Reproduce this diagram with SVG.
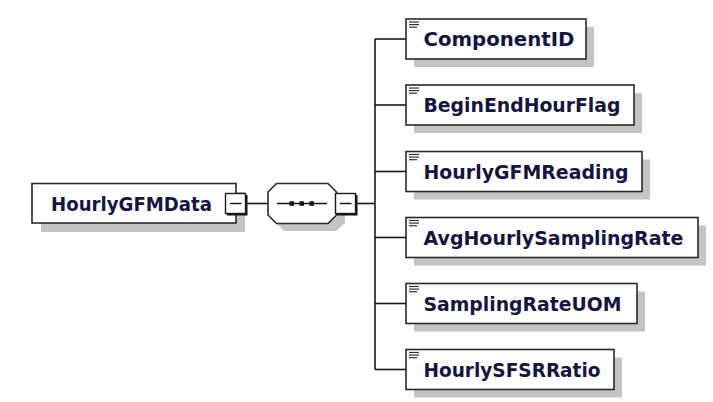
<svg xmlns="http://www.w3.org/2000/svg" width="713" height="402" viewBox="0 0 713 402">
<defs>
<style>
.shadow{fill:#c4c4c4}
.box{fill:#fff;stroke:#2a2a2a;stroke-width:1.6}
.lbl{font-family:"DejaVu Sans","Liberation Sans",sans-serif;font-weight:bold;font-size:20px;fill:#15153f}
.conn{stroke:#1a1a1a;stroke-width:1.6;fill:none}
.ico{stroke:#333;stroke-width:1.2}
.mbox{fill:#fff;stroke:#1a1a1a;stroke-width:1.4}
</style>
<g id="doc"><line class="ico" x1="409" y1="22" x2="419" y2="22"/><line class="ico" x1="409" y1="24.6" x2="419" y2="24.6"/><line class="ico" x1="409" y1="27.2" x2="417" y2="27.2"/></g>
</defs>
<rect width="713" height="402" fill="#fff"/>
<g id="connectors">
<line class="conn" x1="247" y1="203.5" x2="268" y2="203.5"/>
<line class="conn" x1="357" y1="203.5" x2="375" y2="203.5"/>
<line class="conn" x1="375" y1="39" x2="375" y2="369.5"/>
<line class="conn" x1="375" y1="39" x2="406" y2="39"/>
<line class="conn" x1="375" y1="105" x2="406" y2="105"/>
<line class="conn" x1="375" y1="171.5" x2="406" y2="171.5"/>
<line class="conn" x1="375" y1="237.5" x2="406" y2="237.5"/>
<line class="conn" x1="375" y1="303.5" x2="406" y2="303.5"/>
<line class="conn" x1="375" y1="369.5" x2="406" y2="369.5"/>
</g>
<g id="HourlyGFMData">
<rect class="shadow" x="41" y="192" width="204" height="40"/>
<rect class="box" x="32" y="183.5" width="204" height="39.5"/>
<text class="lbl" x="51" y="210.8" textLength="161" lengthAdjust="spacingAndGlyphs">HourlyGFMData</text>
<rect x="227" y="195" width="20.5" height="20.5" fill="#111"/>
<rect class="mbox" x="225.5" y="193.5" width="20" height="20"/>
<line x1="230" y1="203.5" x2="241.5" y2="203.5" stroke="#111" stroke-width="1.4"/>
</g>
<g id="sequence">
<polygon class="shadow" points="284,191 336,191 345,200 345,223 336,231 284,231 276,223 276,200"/>
<polygon points="276.5,183.5 328,183.5 336.5,192 336.5,215 328,223.5 276.5,223.5 268,215 268,192" fill="#fff" stroke="#2a2a2a" stroke-width="1.6"/>
<line x1="277" y1="203.5" x2="327" y2="203.5" stroke="#111" stroke-width="1.4"/>
<rect x="289.5" y="201.3" width="4.5" height="4.5" fill="#111"/>
<rect x="299.5" y="201.3" width="4.5" height="4.5" fill="#111"/>
<rect x="309.5" y="201.3" width="4.5" height="4.5" fill="#111"/>
<rect x="337" y="195" width="20.5" height="20.5" fill="#111"/>
<rect class="mbox" x="335.5" y="193.5" width="20" height="20"/>
<line x1="340" y1="203.5" x2="351.5" y2="203.5" stroke="#111" stroke-width="1.4"/>
</g>
<g id="ComponentID">
<rect class="shadow" x="414" y="27" width="180" height="40"/>
<rect class="box" x="406" y="19" width="180" height="40"/>
<use href="#doc"/>
<text class="lbl" x="423.5" y="46" textLength="151" lengthAdjust="spacingAndGlyphs">ComponentID</text>
</g>
<g id="BeginEndHourFlag">
<rect class="shadow" x="414" y="93" width="228" height="40"/>
<rect class="box" x="406" y="85" width="228" height="40"/>
<use href="#doc" y="66"/>
<text class="lbl" x="423.5" y="112" textLength="197" lengthAdjust="spacingAndGlyphs">BeginEndHourFlag</text>
</g>
<g id="HourlyGFMReading">
<rect class="shadow" x="414" y="159.5" width="236" height="40"/>
<rect class="box" x="406" y="151.5" width="236" height="40"/>
<use href="#doc" y="132.5"/>
<text class="lbl" x="423.5" y="178.5" textLength="205" lengthAdjust="spacingAndGlyphs">HourlyGFMReading</text>
</g>
<g id="AvgHourlySamplingRate">
<rect class="shadow" x="414" y="225.5" width="292" height="40"/>
<rect class="box" x="406" y="217.5" width="292" height="40"/>
<use href="#doc" y="198.5"/>
<text class="lbl" x="423.5" y="244.5" textLength="260" lengthAdjust="spacingAndGlyphs">AvgHourlySamplingRate</text>
</g>
<g id="SamplingRateUOM">
<rect class="shadow" x="414" y="291.5" width="231" height="40"/>
<rect class="box" x="406" y="283.5" width="231" height="40"/>
<use href="#doc" y="264.5"/>
<text class="lbl" x="423.5" y="310.5" textLength="198" lengthAdjust="spacingAndGlyphs">SamplingRateUOM</text>
</g>
<g id="HourlySFSRRatio">
<rect class="shadow" x="414" y="357.5" width="208" height="40"/>
<rect class="box" x="406" y="349.5" width="208" height="40"/>
<use href="#doc" y="330.5"/>
<text class="lbl" x="423.5" y="376.5" textLength="177" lengthAdjust="spacingAndGlyphs">HourlySFSRRatio</text>
</g>
</svg>
